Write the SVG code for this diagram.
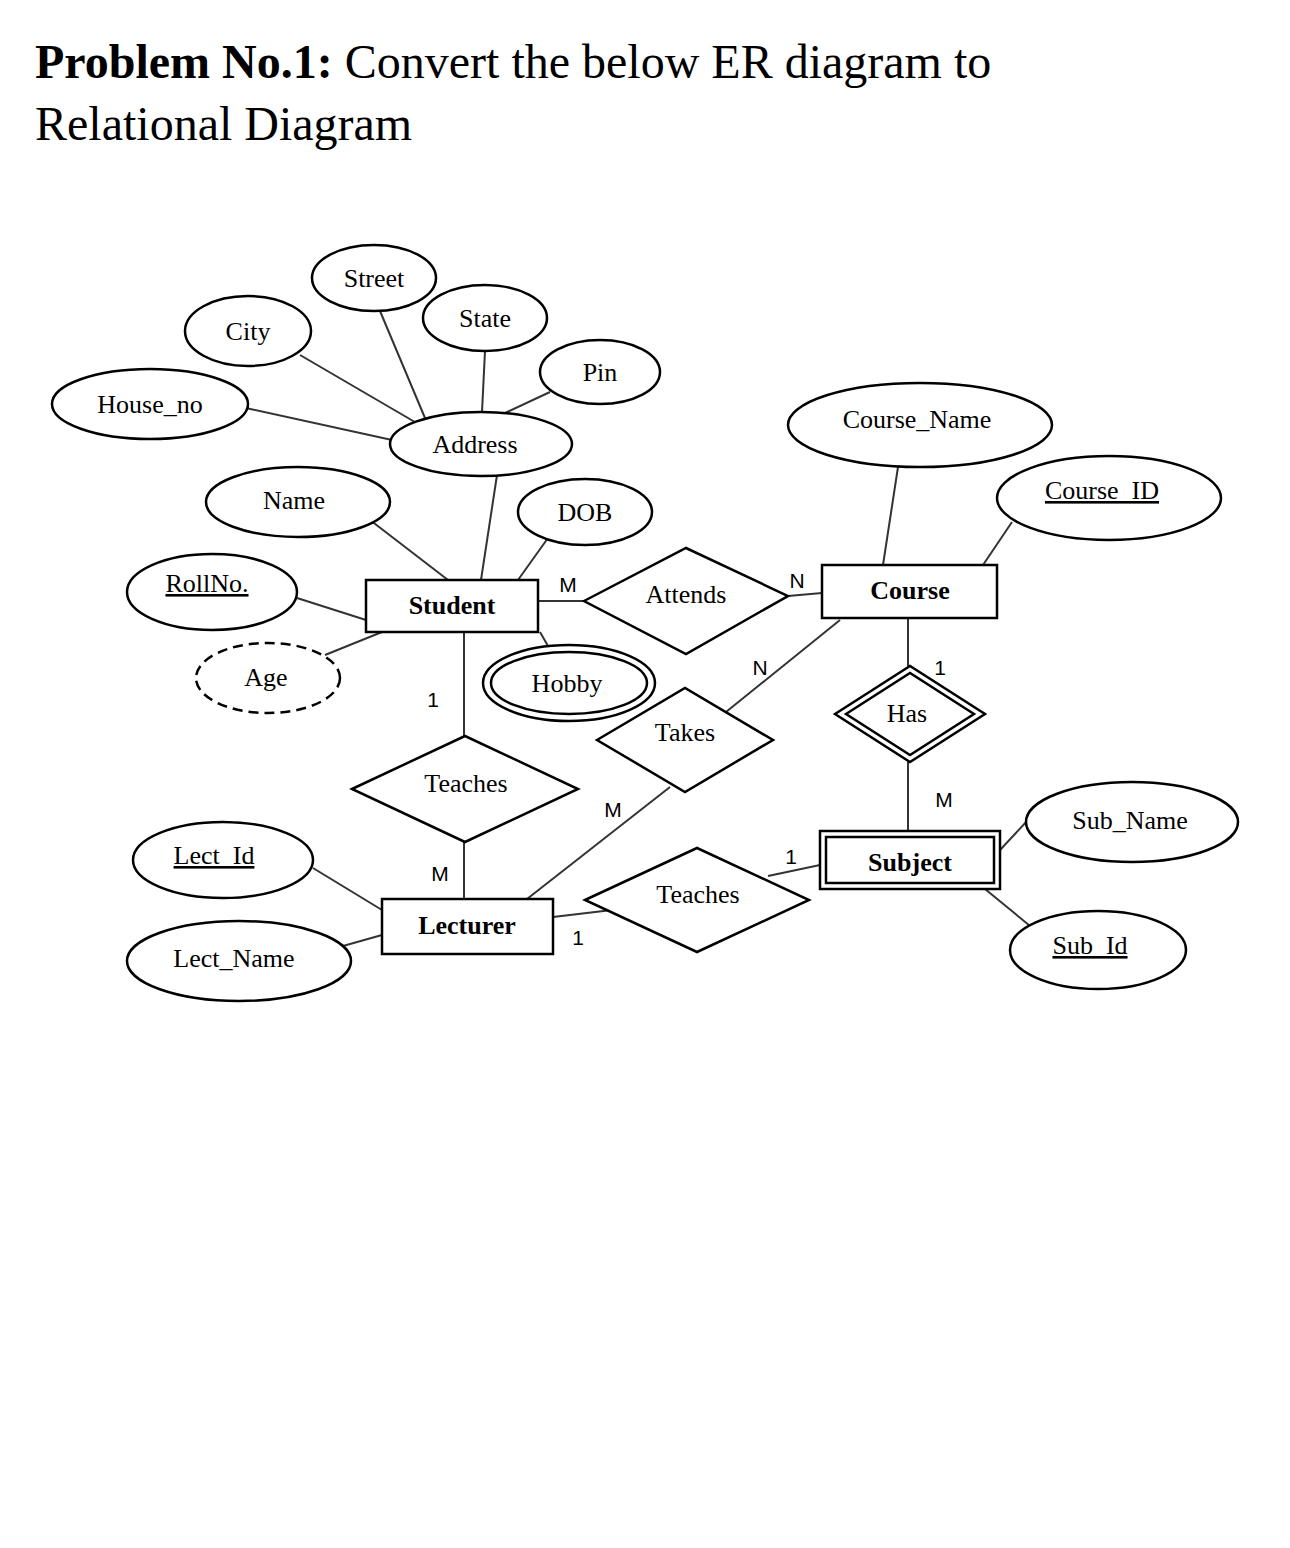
<svg xmlns="http://www.w3.org/2000/svg" width="1290" height="1548" viewBox="0 0 1290 1548">
<style>
.s{fill:#fff;stroke:#000;stroke-width:2.5}
.t{font-family:"Liberation Serif",serif;font-size:26px;text-anchor:middle;fill:#000}
.b{font-weight:bold}
.u{text-decoration:underline}
.c{font-family:"Liberation Sans",sans-serif;font-size:21px;text-anchor:middle;fill:#000}
#conn line{stroke:#333;stroke-width:2}
</style>
<rect width="1290" height="1548" fill="#fff"/>
<text x="35" y="78" font-family="Liberation Serif,serif" font-size="48"><tspan font-weight="bold">Problem No.1:</tspan> Convert the below ER diagram to</text>
<text x="35" y="140" font-family="Liberation Serif,serif" font-size="48">Relational Diagram</text>
<g id="conn">
<line x1="380" y1="311" x2="425" y2="418"/>
<line x1="485" y1="351" x2="482" y2="412"/>
<line x1="300" y1="355" x2="420" y2="425"/>
<line x1="550" y1="392" x2="505" y2="413"/>
<line x1="246" y1="408" x2="392" y2="440"/>
<line x1="497" y1="475" x2="481" y2="580"/>
<line x1="370" y1="520" x2="448" y2="580"/>
<line x1="548" y1="538" x2="518" y2="580"/>
<line x1="297" y1="598" x2="366" y2="620"/>
<line x1="325" y1="655" x2="382" y2="632"/>
<line x1="540" y1="632" x2="548" y2="646"/>
<line x1="538" y1="601" x2="584" y2="601"/>
<line x1="788" y1="596" x2="822" y2="593"/>
<line x1="898" y1="467" x2="883" y2="565"/>
<line x1="1012" y1="522" x2="983" y2="565"/>
<line x1="840" y1="620" x2="726" y2="712"/>
<line x1="908" y1="618" x2="908" y2="666"/>
<line x1="908" y1="762" x2="908" y2="831"/>
<line x1="464" y1="632" x2="464" y2="736"/>
<line x1="464" y1="842" x2="464" y2="899"/>
<line x1="670" y1="787" x2="527" y2="899"/>
<line x1="313" y1="868" x2="382" y2="910"/>
<line x1="343" y1="946" x2="382" y2="935"/>
<line x1="553" y1="917" x2="612" y2="910"/>
<line x1="768" y1="876" x2="820" y2="865"/>
<line x1="1028" y1="820" x2="1000" y2="850"/>
<line x1="985" y1="889" x2="1035" y2="930"/>
</g>
<g id="labels">
<text class="c" x="568" y="592">M</text>
<text class="c" x="797" y="588">N</text>
<text class="c" x="760" y="675">N</text>
<text class="c" x="940" y="675">1</text>
<text class="c" x="944" y="807">M</text>
<text class="c" x="433" y="707">1</text>
<text class="c" x="440" y="881">M</text>
<text class="c" x="613" y="817">M</text>
<text class="c" x="578" y="945">1</text>
<text class="c" x="791" y="864">1</text>
</g>
<g id="street"><ellipse class="s" cx="374" cy="278" rx="62" ry="33"/><text class="t" x="374" y="287">Street</text></g>
<g id="state"><ellipse class="s" cx="485" cy="318" rx="62" ry="33"/><text class="t" x="485" y="327">State</text></g>
<g id="city"><ellipse class="s" cx="248" cy="331" rx="63" ry="35"/><text class="t" x="248" y="340">City</text></g>
<g id="pin"><ellipse class="s" cx="600" cy="372" rx="60" ry="32"/><text class="t" x="600" y="381">Pin</text></g>
<g id="houseno"><ellipse class="s" cx="150" cy="404" rx="98" ry="35"/><text class="t" x="150" y="413">House_no</text></g>
<g id="address"><ellipse class="s" cx="481" cy="444" rx="91" ry="32"/><text class="t" x="475" y="453">Address</text></g>
<g id="coursename"><ellipse class="s" cx="920" cy="425" rx="132" ry="42"/><text class="t" x="917" y="428">Course_Name</text></g>
<g id="name"><ellipse class="s" cx="298" cy="502" rx="92" ry="35"/><text class="t" x="294" y="509">Name</text></g>
<g id="dob"><ellipse class="s" cx="585" cy="512" rx="67" ry="33"/><text class="t" x="585" y="521">DOB</text></g>
<g id="courseid"><ellipse class="s" cx="1109" cy="498" rx="112" ry="42"/><text class="t u" x="1102" y="499">Course_ID</text></g>
<g id="rollno"><ellipse class="s" cx="212" cy="592" rx="85" ry="38"/><text class="t u" x="207" y="592">RollNo.</text></g>
<g id="age"><ellipse cx="268" cy="678" rx="72" ry="35" fill="#fff" stroke="#000" stroke-width="2.5" stroke-dasharray="10,6"/><text class="t" x="266" y="686">Age</text></g>
<g id="hobby"><ellipse class="s" cx="569" cy="683" rx="86" ry="38"/><ellipse class="s" cx="569" cy="683" rx="78" ry="31"/><text class="t" x="567" y="692">Hobby</text></g>
<g id="lectid"><ellipse class="s" cx="223" cy="860" rx="90" ry="38"/><text class="t u" x="214" y="864">Lect_Id</text></g>
<g id="lectname"><ellipse class="s" cx="239" cy="961" rx="112" ry="40"/><text class="t" x="234" y="967">Lect_Name</text></g>
<g id="subname"><ellipse class="s" cx="1132" cy="822" rx="106" ry="40"/><text class="t" x="1130" y="829">Sub_Name</text></g>
<g id="subid"><ellipse class="s" cx="1098" cy="950" rx="88" ry="39"/><text class="t u" x="1090" y="954">Sub_Id</text></g>
<g id="student"><rect class="s" x="366" y="580" width="172" height="52"/><text class="t b" x="452" y="614">Student</text></g>
<g id="course"><rect class="s" x="822" y="565" width="175" height="53"/><text class="t b" x="910" y="599">Course</text></g>
<g id="lecturer"><rect class="s" x="382" y="899" width="171" height="55"/><text class="t b" x="467" y="934">Lecturer</text></g>
<g id="subject"><rect class="s" x="820" y="831" width="180" height="58"/><rect class="s" x="826" y="837" width="168" height="46"/><text class="t b" x="910" y="871">Subject</text></g>
<g id="attends"><polygon class="s" points="584,601 686,548 788,596 686,654"/><text class="t" x="686" y="603">Attends</text></g>
<g id="takes"><polygon class="s" points="597,740 685,688 773,740 685,792"/><text class="t" x="685" y="741">Takes</text></g>
<g id="teaches1"><polygon class="s" points="352,789 465,736 578,789 465,842"/><text class="t" x="466" y="792">Teaches</text></g>
<g id="has"><polygon class="s" points="835,714 910,666 985,714 910,762"/><polygon class="s" points="846,714 910,673 974,714 910,755"/><text class="t" x="907" y="722">Has</text></g>
<g id="teaches2"><polygon class="s" points="585,900 697,848 809,900 697,952"/><text class="t" x="698" y="903">Teaches</text></g>
</svg>
